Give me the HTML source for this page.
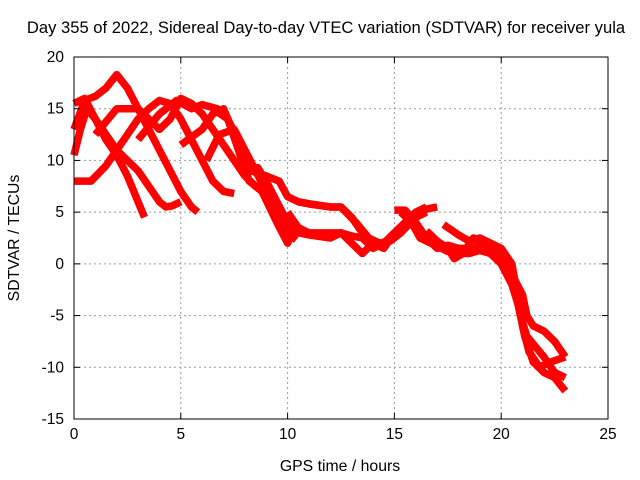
<!DOCTYPE html>
<html><head><meta charset="utf-8"><style>
body{margin:0;background:#fff}
svg{display:block;font-family:"Liberation Sans",sans-serif}
</style></head><body>
<svg id="c" width="640" height="480">
<text x="326" y="33" text-anchor="middle" font-size="16.6">Day 355 of 2022, Sidereal Day-to-day VTEC variation (SDTVAR) for receiver yula</text>
<text x="340" y="471" text-anchor="middle" font-size="15.8">GPS time / hours</text>
<text transform="translate(19,238) rotate(-90)" text-anchor="middle" font-size="15.8">SDTVAR / TECUs</text>
<g id="grid"></g><g id="marks"></g><g id="axes"></g>
</svg>
<script>
const xTicks=[0,5,10,15,20,25];
const yTicks=[-15,-10,-5,0,5,10,15,20];
const arcA=[[0,8],[0.8,8],[1.5,9.5],[2,11],[2.5,12.5],[3,14],[3.5,15],[4,15.8],[4.5,15.5],[5,14],[5.5,12],[6,10],[6.5,8],[7,7],[7.5,6.8]];
const arcB=[[0,13],[0.5,15.8],[1,16.2],[1.5,17],[2,18.3],[2.5,17],[3,15],[3.5,13],[4,11],[4.5,9],[5,7],[5.5,5.5],[5.8,5]];
const arcC=[[0,10.5],[0.3,13],[0.6,15],[1,14],[1.5,12],[2,10.5],[2.5,8.5],[3,6],[3.3,4.5]];
const arcD=[[0,15.5],[0.5,16],[1,14],[1.5,12.5],[2,11],[2.5,10],[3,9],[3.5,7.5],[4,6],[4.3,5.5],[4.6,5.6],[5,6]];
const arcE=[[1,12.5],[2,15],[3,15],[3.5,14],[4,13],[4.5,14],[5,16],[5.5,15.5],[6,14.5],[6.5,13],[7,11.5],[7.5,10],[8,8.5],[8.5,7.5],[9,7.5]];
const arcF=[[3,12],[4,14.5],[4.8,15.8],[5.5,15],[6,15.4],[6.7,15],[7.2,14],[7.8,11.5],[8.3,9],[9,8.5],[9.6,8],[10,6.5],[10.5,6],[11,5.8],[12,5.5],[12.5,5.5],[13,4.5],[13.5,3],[14,2],[14.5,1.5]];
const arcG=[[5,11.5],[6,13],[6.5,14.5],[7,15],[7.5,12.5],[8,9],[8.6,9.3],[9,8],[9.5,6],[10,4],[10.5,3],[11,2.8],[12,2.5],[12.5,3],[13,2],[13.5,1],[14,2],[14.5,1.5],[15,3],[15.5,4],[16,5],[16.5,5.5]];
const arcH=[[6.2,10],[6.8,12.5],[7.5,13],[8,11],[8.5,9],[9,7],[9.5,5],[10,3],[10.4,2.3]];
const arcI=[[6.5,15],[7.2,14],[7.7,11],[8.2,8],[8.8,7],[9.5,4],[10,2],[10.1,2.5]];
const arcJ=[[10,5],[10.5,3.5],[11,3],[11.5,3],[12,3],[12.5,3],[13,2.7],[13.5,2.5],[14,1.5],[14.5,2],[15,3],[15.5,3.5],[16,4.5],[16.5,5.3],[17,5.5]];
const arcK=[[15,5.2],[15.5,5.2],[16,4],[16.5,2.5],[17,1.5],[17.5,1.8],[18,1.5],[19,1.5],[19.5,1.3],[20,0.5],[20.5,-1],[21,-3],[21.2,-5],[21.5,-6],[22,-6.5],[22.5,-7.5],[23,-9]];
const arcL=[[15.3,5],[15.8,4],[16.2,2.5],[16.7,2],[17.5,1.2],[18,1],[18.5,1],[19,1.3],[19.5,1],[20,0],[20.5,-2],[20.8,-4],[21.1,-7],[21.5,-9.5],[22,-10.5],[22.5,-11],[23,-12.3]];
const arcM=[[16.5,3.2],[17,2.2],[17.5,1.5],[17.8,0.5],[18.2,1],[18.7,2.5],[19,1.8],[19.5,1.5],[20,1],[20.3,-0.5],[20.6,-2],[20.9,-5],[21.2,-7],[21.6,-8],[22,-9],[22.5,-10.5],[23,-11]];
const arcN=[[17.3,3.8],[18,2.8],[18.5,2.2],[19,2.5],[19.5,2],[20,1.5],[20.5,0],[20.8,-3.5],[21,-6],[21.3,-8.5],[21.8,-10],[22.3,-9.5],[23,-9]];
const arcO=[[10.5,6],[11,5.8],[12,5.5],[12.5,5.5],[13.2,4],[13.8,2.5],[14.3,2],[14.8,2.2],[15.3,3],[16,4.5],[16.5,5]];
const arcs=[arcA,arcB,arcC,arcD,arcE,arcF,arcG,arcH,arcI,arcJ,arcK,arcL,arcM,arcN,arcO];
const X0=74,X1=608,Y0=419,Y1=57,xmin=0,xmax=25,ymin=-15,ymax=20;
const sx=v=>X0+(v-xmin)/(xmax-xmin)*(X1-X0);
const sy=v=>Y0-(v-ymin)/(ymax-ymin)*(Y0-Y1);
const NS='http://www.w3.org/2000/svg';
function mk(t,a,p){const e=document.createElementNS(NS,t);for(const k in a)e.setAttribute(k,a[k]);p.appendChild(e);return e;}
const grid=document.getElementById('grid'),axes=document.getElementById('axes'),marks=document.getElementById('marks');
xTicks.forEach(t=>{const x=sx(t);
 if(t>xmin&&t<xmax){const g=mk('line',{x1:x,x2:x,y1:Y1,y2:Y0,stroke:'#999','stroke-dasharray':'2,3'},grid);
 
 }
 mk('line',{x1:x,x2:x,y1:Y0,y2:Y0-6,stroke:'#000'},axes);
 mk('line',{x1:x,x2:x,y1:Y1,y2:Y1+6,stroke:'#000'},axes);
 const l=mk('text',{x:x,y:Y0+20,'text-anchor':'middle','font-size':'15.5'},axes);l.textContent=t;
 
 });
yTicks.forEach(t=>{const y=sy(t);
 if(t>ymin&&t<ymax){const g=mk('line',{x1:X0,x2:X1,y1:y,y2:y,stroke:'#999','stroke-dasharray':'2,3'},grid);
 
 }
 mk('line',{x1:X0,x2:X0+6,y1:y,y2:y,stroke:'#000'},axes);
 mk('line',{x1:X1,x2:X1-6,y1:y,y2:y,stroke:'#000'},axes);
 const l=mk('text',{x:X0-10,y:y+5,'text-anchor':'end','font-size':'15.5'},axes);l.textContent=t;
 
 });
const fr=mk('rect',{x:X0,y:Y1,width:X1-X0,height:Y0-Y1,fill:'none',stroke:'#000'},axes);


arcs.forEach(a=>{const p=mk('polyline',{points:a.map(d=>sx(d[0])+','+sy(d[1])).join(' '),fill:'none',stroke:'#f00','stroke-width':7.5,'stroke-linejoin':'round','stroke-linecap':'butt'},marks);
 
 });
</script>
</body></html>
